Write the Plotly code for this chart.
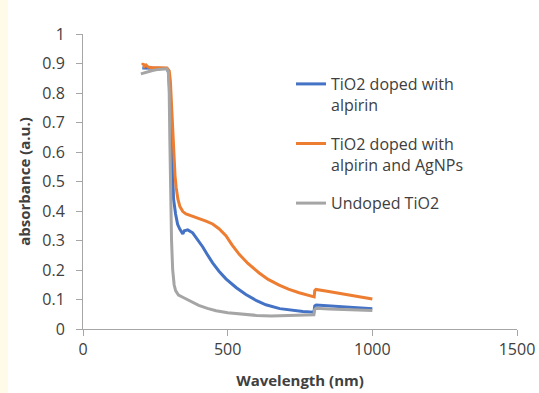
import plotly.graph_objects as go

# Wavelength (nm) / absorbance (a.u.)
wl_blue = [205, 220, 250, 280, 290, 296, 300, 303, 306, 309, 313, 320, 327, 335, 340, 345, 350, 362, 379, 395,
           414, 430, 448, 470, 494, 530, 563, 600, 632, 680, 724, 760, 798, 801, 806, 850, 900, 950, 1000]
abs_blue = [0.885, 0.885, 0.885, 0.885, 0.883, 0.87, 0.80, 0.70, 0.60, 0.50, 0.44, 0.39, 0.355, 0.338, 0.328,
            0.322, 0.333, 0.336, 0.326, 0.305, 0.278, 0.252, 0.224, 0.196, 0.17, 0.14, 0.117, 0.096, 0.082,
            0.069, 0.063, 0.059, 0.057, 0.078, 0.081, 0.078, 0.076, 0.073, 0.069]

wl_orange = [205, 208, 212, 218, 225, 240, 260, 280, 290, 298, 302, 306, 310, 314, 318, 322, 328, 335, 345, 356,
             380, 402, 425, 448, 470, 494, 515, 540, 570, 609, 640, 678, 710, 747, 775, 799, 801, 805, 839, 880,
             920, 960, 1000]
abs_orange = [0.895, 0.9, 0.89, 0.895, 0.888, 0.886, 0.886, 0.886, 0.885, 0.875, 0.84, 0.76, 0.66, 0.58, 0.52,
              0.48, 0.44, 0.415, 0.398, 0.39, 0.382, 0.374, 0.366, 0.356, 0.34, 0.316, 0.285, 0.253, 0.222,
              0.19, 0.168, 0.149, 0.135, 0.123, 0.116, 0.109, 0.13, 0.134, 0.129, 0.122, 0.116, 0.109, 0.102]

wl_gray = [200, 210, 220, 240, 260, 280, 290, 295, 298, 300, 303, 306, 310, 315, 320, 330, 350, 380, 400, 430,
           460, 500, 550, 600, 650, 700, 750, 798, 800, 805, 850, 900, 950, 1000]
abs_gray = [0.865, 0.868, 0.872, 0.876, 0.880, 0.882, 0.882, 0.87, 0.80, 0.65, 0.45, 0.30, 0.20, 0.15, 0.13,
            0.115, 0.105, 0.09, 0.08, 0.07, 0.062, 0.055, 0.05, 0.046, 0.044, 0.045, 0.047, 0.048, 0.065,
            0.07, 0.068, 0.067, 0.065, 0.063]

names = ["TiO2 doped with<br>alpirin", "TiO2 doped with<br>alpirin and AgNPs", "Undoped TiO2"]
colors = ["#4472C4", "#ED7D31", "#A5A5A5"]

x_ticks = [0, 500, 1000, 1500]
y_ticks = [0, 0.1, 0.2, 0.3, 0.4, 0.5, 0.6, 0.7, 0.8, 0.9, 1]
y_ticktext = ["0", "0.1", "0.2", "0.3", "0.4", "0.5", "0.6", "0.7", "0.8", "0.9", "1"]

L, R, T, B = 83, 22, 34, 64
W, H = 539, 393
pw, ph = W - L - R, H - T - B

fig = go.Figure()
for i, (xs, ys) in enumerate([(wl_blue, abs_blue), (wl_orange, abs_orange), (wl_gray, abs_gray)]):
    fig.add_trace(go.Scatter(x=xs, y=ys, mode="lines", name=names[i], legendgroup=str(i),
                             line=dict(color=colors[i], width=3)))

# white panel over the cream page
fig.add_shape(type="rect", xref="paper", yref="paper",
              x0=(8 - L) / pw, x1=(W + 5 - L) / pw, y0=-(B + 5) / ph, y1=(H - T - 8 + T) / ph,
              fillcolor="white", line=dict(width=0), layer="below")

axis_common = dict(showgrid=False, zeroline=False, showline=True, linecolor="#A6A6A6", linewidth=1,
                   ticks="outside", ticklen=6, tickcolor="#A6A6A6", tickwidth=1,
                   tickfont=dict(family="Open Sans", size=16, color="#404040"))

fig.update_xaxes(range=[0, 1500], tickvals=x_ticks, **axis_common,
                 title=dict(text="<b>Wavelength (nm)</b>", font=dict(family="Open Sans", size=15, color="#404040"),
                            standoff=16))
fig.update_yaxes(range=[0, 1], tickvals=y_ticks, ticktext=y_ticktext, **axis_common,
                 ticklabelstandoff=8,
                 title=dict(text="<b>absorbance (a.u.)</b>", font=dict(family="Open Sans", size=15, color="#404040"),
                            standoff=8))

fig.update_layout(
    width=W, height=H, autosize=False,
    margin=dict(l=L, r=R, t=T, b=B, autoexpand=False),
    paper_bgcolor="#FFFBE8", plot_bgcolor="white",
    showlegend=True,
    legend=dict(x=(291 - L) / pw, y=(329 - 67) / ph, xanchor="left", yanchor="top",
                bgcolor="rgba(0,0,0,0)", font=dict(family="Open Sans", size=16, color="#404040"),
                valign="top", tracegroupgap=15, itemwidth=30),
)

fig.write_html("out.html")
